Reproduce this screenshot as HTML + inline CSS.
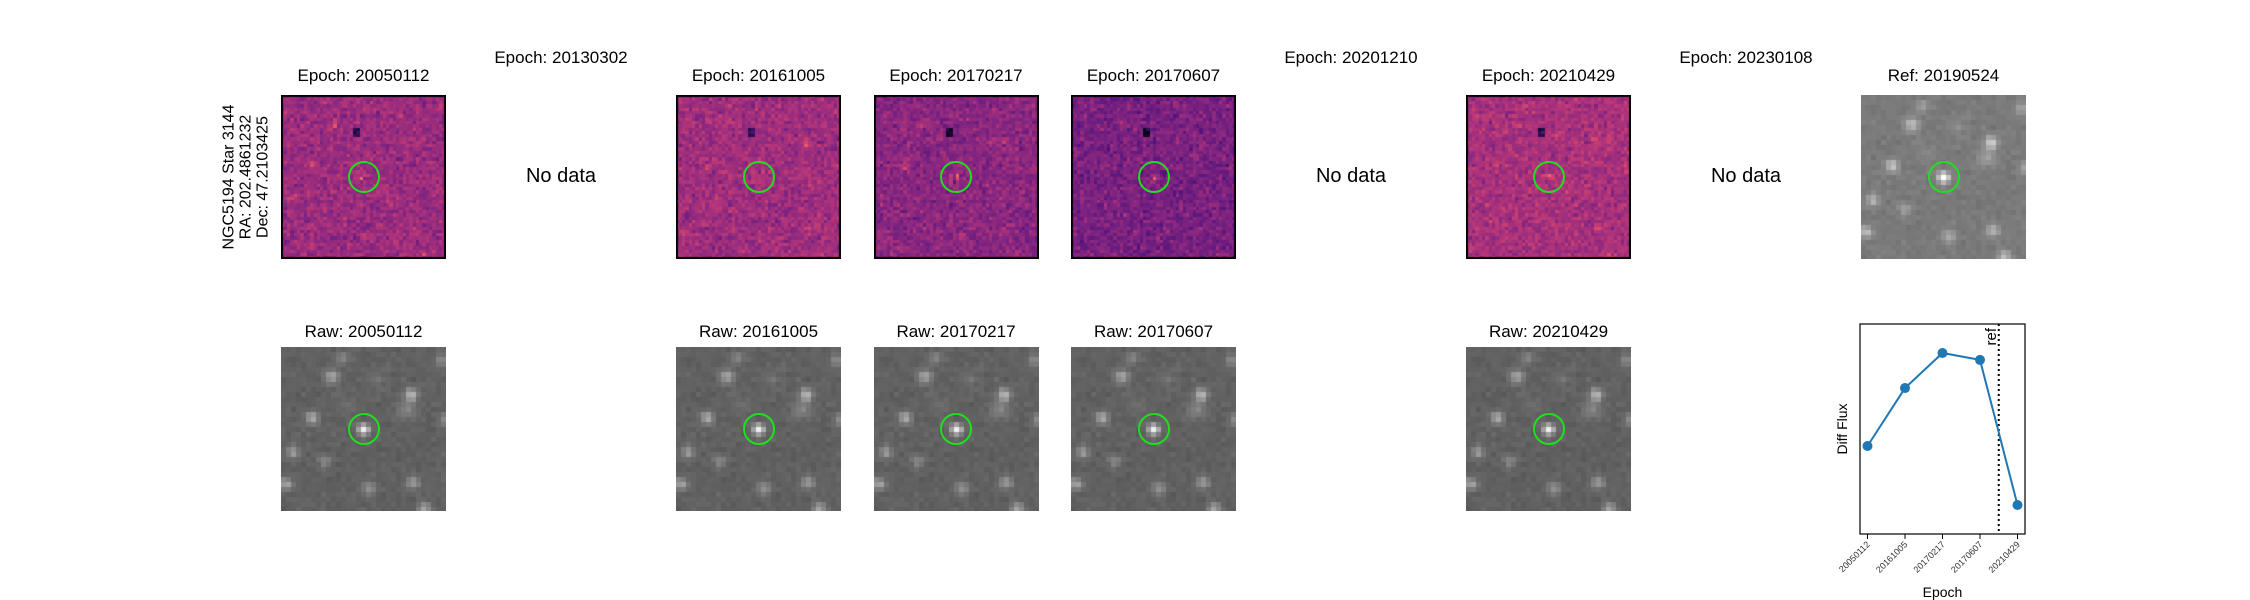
<!DOCTYPE html>
<html><head><meta charset="utf-8"><style>
body{margin:0;background:#fff;width:2250px;height:600px;position:relative;overflow:hidden;font-family:"Liberation Sans","DejaVu Sans",sans-serif;color:#000}
.t{position:absolute;font-size:17px;text-align:center;width:260px;white-space:nowrap;line-height:20px}
.nd{position:absolute;font-size:20px;text-align:center;width:200px;line-height:24px}
canvas{position:absolute}
.circ{position:absolute;width:32px;height:32px;border:2px solid #1ee01e;border-radius:50%;box-sizing:border-box}
</style></head><body>
<div style="position:absolute;left:246px;top:177px;transform:translate(-50%,-50%) rotate(-90deg);font-size:16px;line-height:17px;text-align:center;white-space:nowrap">NGC5194 Star 3144<br>RA: 202.4861232<br>Dec: 47.2103425</div>
<div id="root"></div>
<svg id="lc" width="2250" height="600" style="position:absolute;left:0;top:0"></svg>
<script>
const epochs=["20050112","20130302","20161005","20170217","20170607","20201210","20210429","20230108"];
const hasData=[true,false,true,true,true,false,true,false];
const lcCategories=["20050112","20161005","20170217","20170607","20210429"];
const lcValues=[41.9,69.5,86.2,82.9,13.8];
const refIndex=3.5;

const root=document.getElementById('root');
let seed=12345;function rnd(){seed=(seed*1103515245+12345)%2147483648;return seed/2147483648;}
function gauss(){return (rnd()+rnd()+rnd()+rnd()-2)*0.87;}
const magStops=[[0,0,0,4],[0.13,28,16,68],[0.25,79,18,123],[0.38,129,37,129],[0.5,181,54,122],[0.63,229,80,100],[0.75,251,135,97],[0.88,254,194,135],[1,252,253,191]];
function magma(v){v=Math.max(0,Math.min(1,v));for(let i=1;i<magStops.length;i++){if(v<=magStops[i][0]){const a=magStops[i-1],b=magStops[i],f=(v-a[0])/(b[0]-a[0]);return `rgb(${a[1]+(b[1]-a[1])*f|0},${a[2]+(b[2]-a[2])*f|0},${a[3]+(b[3]-a[3])*f|0})`;}}return 'rgb(252,253,191)';}
const stars=[[0.5,0.5,1.0,0.9],[0.31,0.18,0.5,1],[0.79,0.29,0.6,1],[0.76,0.38,0.25,1.5],[0.19,0.43,0.55,1],[0.07,0.64,0.4,1],[0.26,0.69,0.3,1],[0.03,0.83,0.5,1],[0.53,0.86,0.4,1],[0.80,0.82,0.45,1],[0.87,0.98,0.5,1],[0.97,0.08,0.3,1],[0.37,0.07,0.25,1],[0.99,0.44,0.3,1],[0.6,0.2,0.12,1.5],[0.4,0.35,0.1,1.5]];
const W=165,H=164,colX=k=>281+k*197.5;
function addTitle(txt,x,y,name){const d=document.createElement('div');d.className='t';d.textContent=txt;d.style.left=(x+W/2-130)+'px';d.style.top=y+'px';


root.appendChild(d);}
function addCircle(x,y,name){const c=document.createElement('div');c.className='circ';c.style.left=(x+W/2-16)+'px';c.style.top=(y+H/2-16)+'px';


root.appendChild(c);}
function skyCanvas(x,y,base,border,name){const cv=document.createElement('canvas');cv.width=W;cv.height=H;cv.style.left=x+'px';cv.style.top=y+'px';


const g=cv.getContext('2d');const N=33,p=W/N;seed=999;
for(let i=0;i<N;i++)for(let j=0;j<N;j++){const fx=(i+0.5)/N,fy=(j+0.5)/N;let v=base+gauss()*0.03;
for(const s of stars){const d2=((fx-s[0])**2+(fy-s[1])**2)*N*N;v+=s[2]*0.55*Math.exp(-d2/(2*0.8*s[3]*s[3]));}
v=Math.min(1,v);const c=v*255|0;g.fillStyle=`rgb(${c},${c},${c})`;g.fillRect(Math.floor(i*p),Math.floor(j*p),Math.ceil(p)+1,Math.ceil(p)+1);}
if(border){g.strokeStyle='#000';g.lineWidth=2;g.strokeRect(1,1,W-2,H-2);}root.appendChild(cv);}
function diffCanvas(x,y,base,sd,s,name){const cv=document.createElement('canvas');cv.width=W;cv.height=H;cv.style.left=x+'px';cv.style.top=y+'px';


const g=cv.getContext('2d');const N=50,p=W/N;seed=s;
for(let i=0;i<N;i++)for(let j=0;j<N;j++){let v=base+gauss()*sd;const fx=(i+0.5)/N,fy=(j+0.5)/N;
for(const st of stars){const d2=((fx-st[0])**2+(fy-st[1])**2)*N*N;v+=(rnd()-0.2)*st[2]*0.4*Math.exp(-d2/2.5);}
if(Math.abs(fx-0.46)<0.012&&Math.abs(fy-0.23)<0.022)v-=0.3;
g.fillStyle=magma(v);g.fillRect(Math.floor(i*p),Math.floor(j*p),Math.ceil(p)+1,Math.ceil(p)+1);}
g.strokeStyle='#000';g.lineWidth=2;g.strokeRect(1,1,W-2,H-2);root.appendChild(cv);}
const bases=[0.44,0,0.45,0.40,0.36,0,0.47,0];
epochs.forEach((e,k)=>{const x=colX(k);
if(hasData[k]){addTitle('Epoch: '+e,x,66,'diff-title-'+e);diffCanvas(x,95,bases[k],0.085,100+k*17,'diff-image-'+e);addCircle(x,95,'diff-target-circle-'+e);
addTitle('Raw: '+e,x,322,'raw-title-'+e);skyCanvas(x,347,0.38,false,'raw-image-'+e);addCircle(x,347,'raw-target-circle-'+e);}
else{addTitle('Epoch: '+e,x,48,'nodata-title-'+e);const d=document.createElement('div');d.className='nd';d.textContent='No data';d.style.left=(x+W/2-100)+'px';d.style.top='164px';


root.appendChild(d);}});
const rx=colX(8);addTitle('Ref: 20190524',rx,66,'ref-title');skyCanvas(rx,95,0.48,false,'ref-image');addCircle(rx,95,'ref-target-circle');

const svg=document.getElementById('lc');const NS='http://www.w3.org/2000/svg';
const L=1860,R=2025,T=324,B=534;const xmin=-0.2,xmax=4.2,ymin=0,ymax=100;
const xs=i=>L+(i-xmin)/(xmax-xmin)*(R-L);const ys=v=>B-(v-ymin)/(ymax-ymin)*(B-T);
function el(t,a,name){const e=document.createElementNS(NS,t);for(const k in a)e.setAttribute(k,a[k]);


svg.appendChild(e);return e;}
el('line',{x1:xs(refIndex),x2:xs(refIndex),y1:T,y2:B,stroke:'#000','stroke-width':2,'stroke-dasharray':'2,3'},'ref-line');
const rt=el('text',{x:xs(refIndex)-3,y:T+4,'font-size':15,'text-anchor':'end',transform:`rotate(-90 ${xs(refIndex)-3} ${T+4})`},'ref-line-label');rt.textContent='ref';
el('polyline',{points:lcValues.map((v,i)=>xs(i)+','+ys(v)).join(' '),fill:'none',stroke:'#1f77b4','stroke-width':2},'flux-line');
lcValues.forEach((v,i)=>{el('circle',{cx:xs(i),cy:ys(v),r:5,fill:'#1f77b4'},'flux-point-'+lcCategories[i]);});
el('rect',{x:L,y:T,width:R-L,height:B-T,fill:'none',stroke:'#000','stroke-width':1.2},'plot-frame');
lcCategories.forEach((c,i)=>{const x=xs(i);el('line',{x1:x,x2:x,y1:B,y2:B+5,stroke:'#000'},'x-tick-'+c);
const t=el('text',{x:x+3,y:B+11,'font-size':9,'text-anchor':'end',fill:'#333',transform:`rotate(-45 ${x+3} ${B+11})`},'x-tick-label-'+c);t.textContent=c;});
const xl=el('text',{x:(L+R)/2,y:597,'font-size':14,'text-anchor':'middle'},'x-axis-title');xl.textContent='Epoch';
const yl=el('text',{x:1847,y:(T+B)/2,'font-size':14,'text-anchor':'middle',transform:`rotate(-90 1847 ${(T+B)/2})`},'y-axis-title');yl.textContent='Diff Flux';
</script>
</body></html>
